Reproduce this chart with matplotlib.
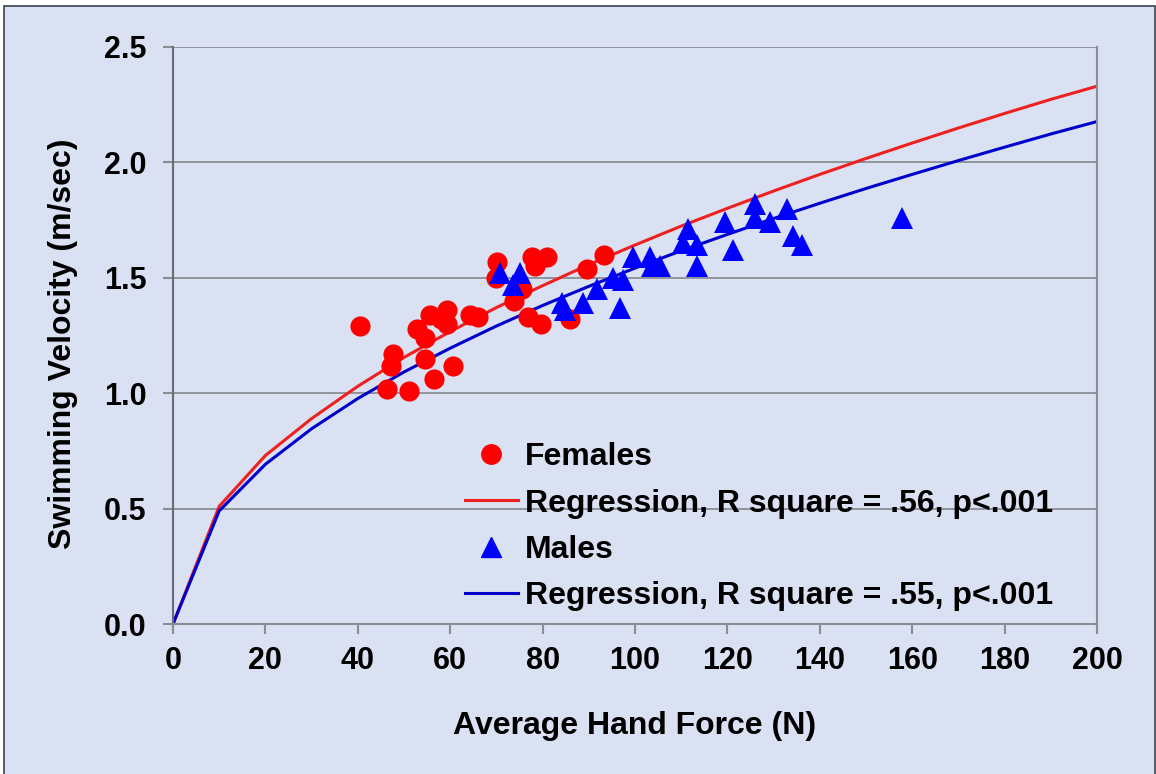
"""
Swimming velocity vs average hand force, females and males with regression curves
"""
import matplotlib
matplotlib.use('Agg')
import matplotlib.pyplot as plt
from matplotlib.lines import Line2D
from matplotlib.patches import Rectangle

# Females (red circles)
female_force = [40.5, 46.3, 47.2, 47.6, 51.1, 52.8, 54.5, 54.5, 55.6, 56.5,
                58.0, 59.3, 59.3, 60.6, 64.3, 66.0, 70.1, 69.9, 73.8, 75.5,
                77.7, 78.4, 81.0, 76.8, 79.7, 85.9, 89.6, 93.3]
female_velocity = [1.29, 1.02, 1.12, 1.17, 1.01, 1.28, 1.15, 1.24, 1.34, 1.06,
                   1.32, 1.30, 1.36, 1.12, 1.34, 1.33, 1.57, 1.50, 1.40, 1.45,
                   1.59, 1.55, 1.59, 1.33, 1.30, 1.32, 1.54, 1.60]

# Males (blue triangles)
male_force = [70.8, 73.6, 75.1, 84.2, 84.8, 88.7, 91.8, 95.2, 97.4, 96.8,
              99.6, 103.2, 103.7, 105.4, 111.5, 110.4, 113.4, 113.4, 119.5, 121.2,
              126.0, 126.0, 129.2, 132.9, 134.2, 136.1, 157.8]
male_velocity = [1.52, 1.47, 1.52, 1.39, 1.36, 1.39, 1.45, 1.50, 1.49, 1.37,
                 1.59, 1.59, 1.55, 1.55, 1.71, 1.65, 1.64, 1.55, 1.74, 1.62,
                 1.82, 1.76, 1.74, 1.80, 1.68, 1.64, 1.76]

# Regression curves, read at every 10 N
curve_force = [0, 10, 20, 30, 40, 50, 60, 70, 80, 90, 100,
               110, 120, 130, 140, 150, 160, 170, 180, 190, 200]
female_fit = [0.0, 0.51, 0.73, 0.89, 1.03, 1.155, 1.267, 1.371, 1.466, 1.557, 1.642,
              1.724, 1.801, 1.876, 1.948, 2.017, 2.084, 2.149, 2.212, 2.273, 2.33]
male_fit = [0.0, 0.49, 0.692, 0.846, 0.977, 1.092, 1.195, 1.291, 1.380, 1.463, 1.542,
            1.617, 1.688, 1.757, 1.823, 1.887, 1.948, 2.008, 2.066, 2.123, 2.177]

legend_labels = ['Females', 'Regression, R square = .56, p<.001',
                 'Males', 'Regression, R square = .55, p<.001']

BG = '#d9e1f2'
GRID = '#8a8d93'
FS_TICK = 22
FS = 23

plt.rcParams['font.family'] = ['Liberation Sans', 'DejaVu Sans']
plt.rcParams['font.weight'] = 'bold'

fig = plt.figure(figsize=(11.56, 7.74), dpi=100, facecolor='white')
fig.patches.append(Rectangle((4 / 1156, -0.01), 1151 / 1156, 1 - 6 / 774 + 0.01,
                             transform=fig.transFigure, facecolor=BG,
                             edgecolor='#3c4150', linewidth=1.2, zorder=-10))

ax = fig.add_axes([173 / 1156, 1 - 624 / 774, 924 / 1156, 577 / 774])
ax.set_facecolor(BG)

ax.plot(curve_force, female_fit, color='#ee2020', linewidth=2.2, zorder=2)
ax.plot(curve_force, male_fit, color='#0000cc', linewidth=2.2, zorder=2)
ax.plot(female_force, female_velocity, 'o', color='#ff0000', markersize=14.5,
        markeredgewidth=0, zorder=3)
ax.plot(male_force, male_velocity, '^', color='#0000ff', markersize=15.5,
        markeredgewidth=0, zorder=4)

ax.set_xlim(0, 200)
ax.set_ylim(0, 2.5)
ax.set_xticks(range(0, 201, 20))
ax.set_yticks([0.0, 0.5, 1.0, 1.5, 2.0, 2.5])
ax.set_yticklabels(['0.0', '0.5', '1.0', '1.5', '2.0', '2.5'])
ax.yaxis.grid(True, color=GRID, linewidth=1.3)
ax.set_axisbelow(True)

for side in ['left', 'bottom', 'right']:
    ax.spines[side].set_color(GRID)
    ax.spines[side].set_linewidth(1.5)
ax.spines['top'].set_visible(False)
ax.spines['left'].set_color('#6a6d73')

ax.tick_params(axis='both', colors=GRID, length=7, width=1.5, labelsize=FS_TICK,
               labelcolor='black')
ax.tick_params(axis='x', pad=9)
ax.tick_params(axis='y', pad=12)

ax.set_xlabel('Average Hand Force (N)', fontsize=FS, fontweight='bold')
ax.set_ylabel('Swimming Velocity (m/sec)', fontsize=FS, fontweight='bold')
ax.xaxis.set_label_coords(0.5, -0.15)
ax.yaxis.set_label_coords(-0.103, 0.485)

handles = [
    Line2D([], [], marker='o', linestyle='none', color='#ff0000', markersize=14),
    Line2D([], [], color='#ee2020', linewidth=2.2),
    Line2D([], [], marker='^', linestyle='none', color='#0000ff', markersize=14),
    Line2D([], [], color='#0000cc', linewidth=2.2),
]
leg = ax.legend(handles, legend_labels, loc='upper left',
                bbox_to_anchor=(0.302, 0.337), frameon=False, fontsize=FS,
                handlelength=1.66, handletextpad=0.22, labelspacing=0.51,
                borderaxespad=0)
for t in leg.get_texts():
    t.set_fontweight('bold')

fig.savefig('out.png', dpi=100, facecolor='white')
plt.close(fig)
